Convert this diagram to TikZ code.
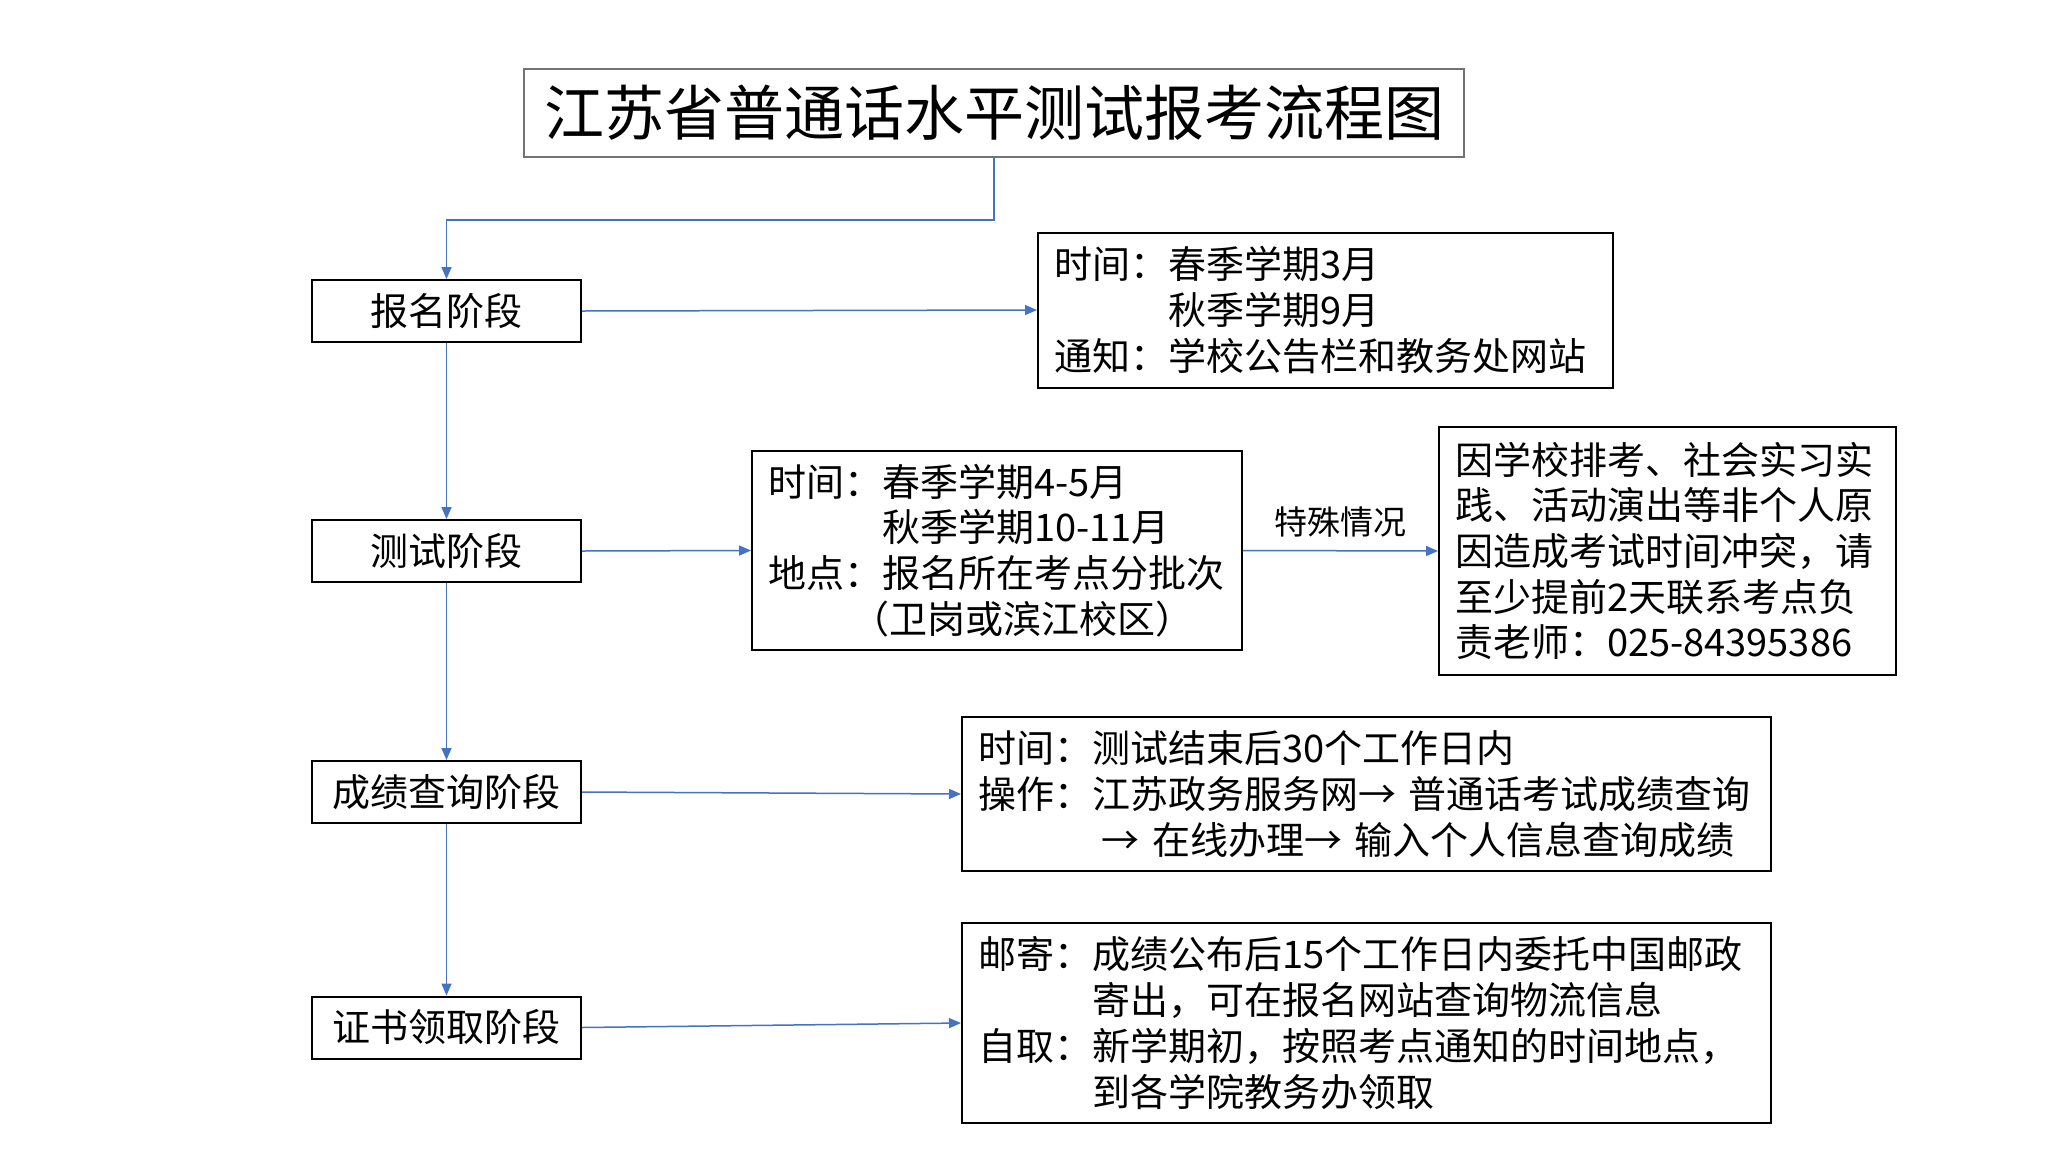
\documentclass[tikz,border=0pt]{standalone}
\usepackage{fontspec}
\setmainfont{Noto Sans CJK SC}
\usetikzlibrary{arrows.meta}
\definecolor{lineblue}{HTML}{4472C4}
\newcommand\lab[1]{\makebox[3em][l]{#1}}
\begin{document}
\begin{tikzpicture}[x=1pt,y=-1pt,
  box/.style={draw=black,line width=2pt,inner ysep=0pt,font=\fontsize{38}{45.7}\selectfont},
  stage/.style={box,inner xsep=0pt,minimum width=269pt,minimum height=62pt},
  info/.style={box,align=left,inner xsep=16pt},
  link/.style={draw=lineblue,line width=1.5pt,-{Triangle[length=12pt,width=10pt]}}]
\path[fill=white] (0,0) rectangle (2048,1152);

\node[draw=black!55,line width=1.5pt,inner sep=0pt,minimum width=940pt,minimum height=88pt,
  font=\fontsize{60}{68}\selectfont] (title) at (994,113) {江苏省普通话水平测试报考流程图};

\node[stage] (s1) at (446.5,311) {报名阶段};
\node[stage] (s2) at (446.5,551) {测试阶段};
\node[stage] (s3) at (446.5,792) {成绩查询阶段};
\node[stage] (s4) at (446.5,1027.5) {证书领取阶段};

\node[info,minimum width=575pt,minimum height=155pt,text width=543pt] (b1) at (1325.5,310)
  {\lab{时间：}春季学期3月\\\lab{}秋季学期9月\\\lab{通知：}学校公告栏和教务处网站};
\node[info,minimum width=490pt,minimum height=199pt,text width=458pt] (b2) at (997,550.5)
  {\lab{时间：}春季学期4-5月\\\lab{}秋季学期10-11月\\\lab{地点：}报名所在考点分批次\\\lab{}\hspace*{-0.8em}（卫岗或滨江校区）};
\node[info,minimum width=457pt,minimum height=248pt,text width=425pt] (b3) at (1667.5,551)
  {因学校排考、社会实习实\\践、活动演出等非个人原\\因造成考试时间冲突，请\\至少提前2天联系考点负\\责老师：025-84395386};
\node[info,minimum width=809pt,minimum height=154pt,text width=777pt] (b4) at (1366.5,794)
  {\lab{时间：}测试结束后30个工作日内\\\lab{操作：}江苏政务服务网→ 普通话考试成绩查询\\\lab{}\hspace*{0.25em}→ 在线办理→ 输入个人信息查询成绩};
\node[info,minimum width=809pt,minimum height=200pt,text width=777pt] (b5) at (1366.5,1023)
  {\lab{邮寄：}成绩公布后15个工作日内委托中国邮政\\\lab{}寄出，可在报名网站查询物流信息\\\lab{自取：}新学期初，按照考点通知的时间地点，\\\lab{}到各学院教务办领取};

\draw[link] (title.south) -- ++(0,62) -| (s1.north);
\draw[link] (s1.south) -- (s2.north);
\draw[link] (s2.south) -- (s3.north);
\draw[link] (s3.south) -- (s4.north);
\draw[link] (s1.east) -- (b1.west);
\draw[link] (s2.east) -- (b2.west);
\draw[link] (s3.east) -- (b4.west);
\draw[link] (s4.east) -- (b5.west);
\draw[link] (b2.east) -- node[midway,yshift=29pt,inner sep=0pt,font=\fontsize{33}{38}\selectfont] (lbl) {特殊情况} (b3.west);
\end{tikzpicture}
\end{document}
